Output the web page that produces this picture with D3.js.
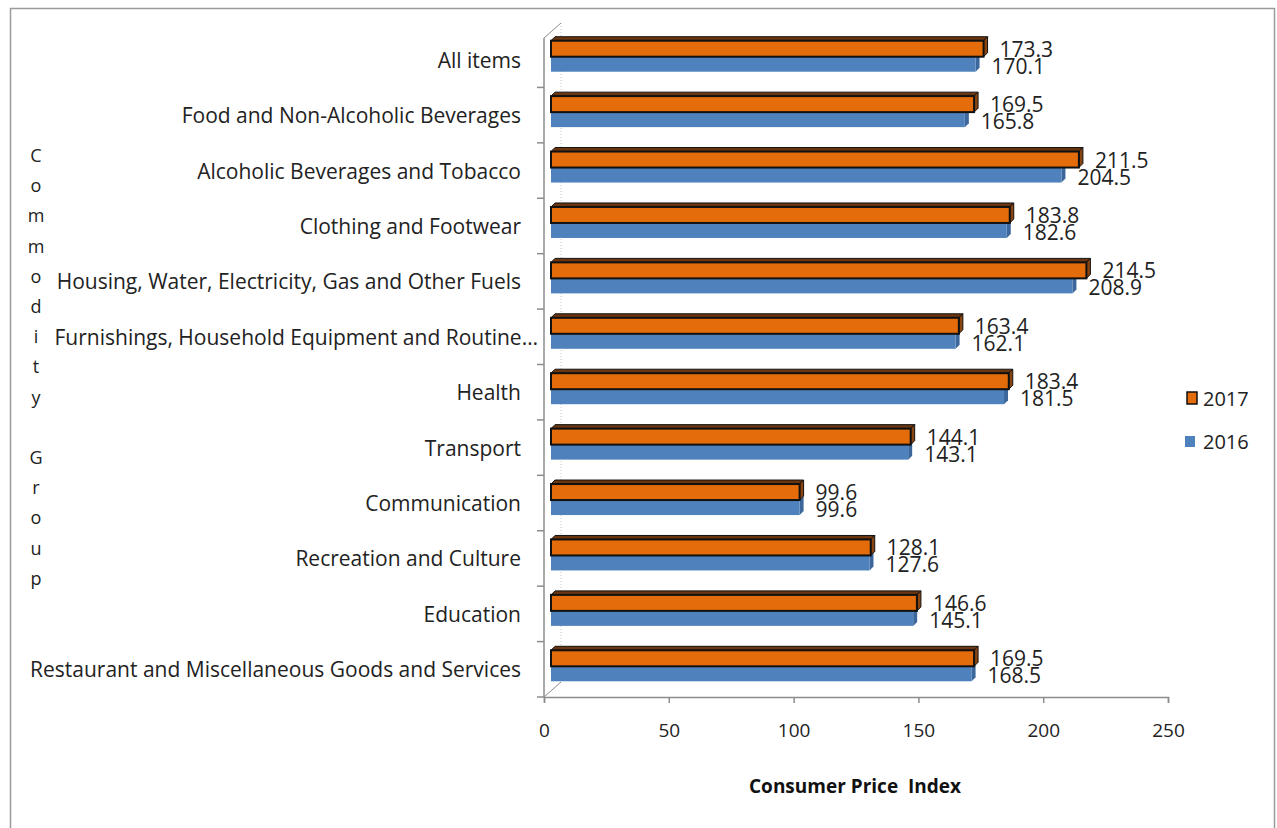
<!DOCTYPE html>
<html><head><meta charset="utf-8">
<script src="https://cdnjs.cloudflare.com/ajax/libs/d3/7.8.5/d3.min.js"></script>
<style>body{margin:0;background:#fff}svg{display:block}text{white-space:pre}</style>
</head><body>
<script>
const categories = ["All items","Food and Non-Alcoholic Beverages","Alcoholic Beverages and Tobacco","Clothing and Footwear","Housing, Water, Electricity, Gas and Other Fuels","Furnishings, Household Equipment and Routine…","Health","Transport","Communication","Recreation and Culture","Education","Restaurant and Miscellaneous Goods and Services"];
const values2017 = [173.3,169.5,211.5,183.8,214.5,163.4,183.4,144.1,99.6,128.1,146.6,169.5];
const values2016 = [170.1,165.8,204.5,182.6,208.9,162.1,181.5,143.1,99.6,127.6,145.1,168.5];
const xTicks = [0,50,100,150,200,250];
const seriesNames = ["2017","2016"];
const yTitle = "Commodity Group";
const xTitle = "Consumer Price  Index";

const W=1277,H=828;
const font="'Open Sans', Lato, sans-serif";
const svg=d3.select("body").append("svg").attr("width",W).attr("height",H);
svg.append("rect").attr("x",10.5).attr("y",8.5).attr("width",1264).attr("height",840).attr("fill","#fff").attr("stroke","#9a9a9a").attr("stroke-width",1.5);

const x=d3.scaleLinear().domain([0,250]).range([544,1168]);
const y=d3.scaleBand().domain(categories).range([32,697]);

const axisCol="#8c8c8c";
svg.append("line").attr("x1",561).attr("x2",561).attr("y1",23).attr("y2",682).attr("stroke","#c8c8c8").attr("stroke-dasharray","1,2");
svg.append("line").attr("x1",544).attr("y1",38).attr("x2",561).attr("y2",23).attr("stroke",axisCol);
svg.append("line").attr("x1",544).attr("y1",697).attr("x2",561).attr("y2",682).attr("stroke",axisCol);

const xa=svg.append("g").attr("transform","translate(0,697)").call(d3.axisBottom(x).tickValues(xTicks).tickSize(6).tickPadding(21).tickFormat(d3.format("d")));
xa.select(".domain").attr("stroke",axisCol).attr("stroke-width",1.5);
xa.selectAll(".tick line").attr("stroke",axisCol).attr("stroke-width",1.5);
xa.selectAll("text").attr("font-family",font).attr("font-size",19).attr("fill","#222");

const ya=svg.append("g").attr("transform","translate(544,0)").call(d3.axisLeft(y).tickValues([]).tickSize(0));
ya.select(".domain").attr("stroke",axisCol).attr("stroke-width",1.5).attr("d","M0,38V697");
const edges=categories.map(c=>y(c)).concat([697]).slice(1);
svg.selectAll(".ct").data(edges).enter().append("line").attr("x1",537).attr("x2",544).attr("y1",d=>d).attr("y2",d=>d).attr("stroke",axisCol).attr("stroke-width",1.5);

svg.selectAll(".cl").data(categories).enter().append("text")
 .attr("x",d=>d.endsWith("…")?538:521).attr("y",d=>y(d)+y.bandwidth()/2).attr("text-anchor","end").attr("dominant-baseline","central")
 .attr("font-family",font).attr("font-size",21).attr("fill","#222").text(d=>d);

const dx=7, d3d=4;
function bar3d(g, x0, x1, yt, h, front, top, side, stroke){
  if(top){
    g.append("path").attr("d",`M${x0},${yt}L${x0+d3d},${yt-d3d}L${x1+d3d},${yt-d3d}L${x1},${yt}Z`).attr("fill",top).attr("stroke",stroke||"none").attr("stroke-width",1);
  }
  g.append("path").attr("d",`M${x1},${yt}L${x1+d3d},${yt-d3d}L${x1+d3d},${yt+h-d3d}L${x1},${yt+h}Z`).attr("fill",side).attr("stroke",stroke||"none").attr("stroke-width",1);
  g.append("rect").attr("x",x0).attr("y",yt).attr("width",x1-x0).attr("height",h).attr("fill",front).attr("stroke",stroke||"none").attr("stroke-width",stroke?2:0);
}
const bars=svg.append("g");
categories.forEach((c,i)=>{
  const cy=y(c)+y.bandwidth()/2;
  bar3d(bars, x(0)+dx, x(values2016[i])+dx, cy-3, 15, "#4F81BD", null, "#3b679c", null);
  bar3d(bars, x(0)+dx, x(values2017[i])+dx, cy-19, 16, "#E46C0A", "#6b3510", "#8a4410", "#111");
});
svg.selectAll(".v17").data(values2017).enter().append("text")
 .attr("x",d=>x(d)+23).attr("y",(d,i)=>y(categories[i])+y.bandwidth()/2-11).attr("dominant-baseline","central")
 .attr("font-family",font).attr("font-size",21).attr("fill","#222").text(d=>d.toFixed(1));
svg.selectAll(".v16").data(values2016).enter().append("text")
 .attr("x",d=>x(d)+23).attr("y",(d,i)=>y(categories[i])+y.bandwidth()/2+6).attr("dominant-baseline","central")
 .attr("font-family",font).attr("font-size",21).attr("fill","#222").text(d=>d.toFixed(1));

const letters=yTitle.split("");
svg.selectAll(".yt").data(letters).enter().append("text")
 .attr("x",36).attr("y",(d,i)=>155+i*30.2).attr("text-anchor","middle").attr("dominant-baseline","central")
 .attr("font-family",font).attr("font-size",18).attr("fill","#222").text(d=>d);

svg.append("text").attr("x",855).attr("y",786).attr("text-anchor","middle").attr("dominant-baseline","central")
 .attr("font-family",font).attr("font-size",19).attr("font-weight","bold").attr("fill","#111").text(xTitle);

const lg=svg.append("g");
lg.append("rect").attr("x",1187).attr("y",392).attr("width",10).attr("height",12).attr("fill","#E46C0A").attr("stroke","#111").attr("stroke-width",1.5);
lg.append("text").attr("x",1203).attr("y",398).attr("dominant-baseline","central").attr("font-family",font).attr("font-size",20).attr("fill","#222").text(seriesNames[0]);
lg.append("rect").attr("x",1185).attr("y",436).attr("width",10).attr("height",11).attr("fill","#4F81BD");
lg.append("text").attr("x",1203).attr("y",441).attr("dominant-baseline","central").attr("font-family",font).attr("font-size",20).attr("fill","#222").text(seriesNames[1]);
</script>
</body></html>
